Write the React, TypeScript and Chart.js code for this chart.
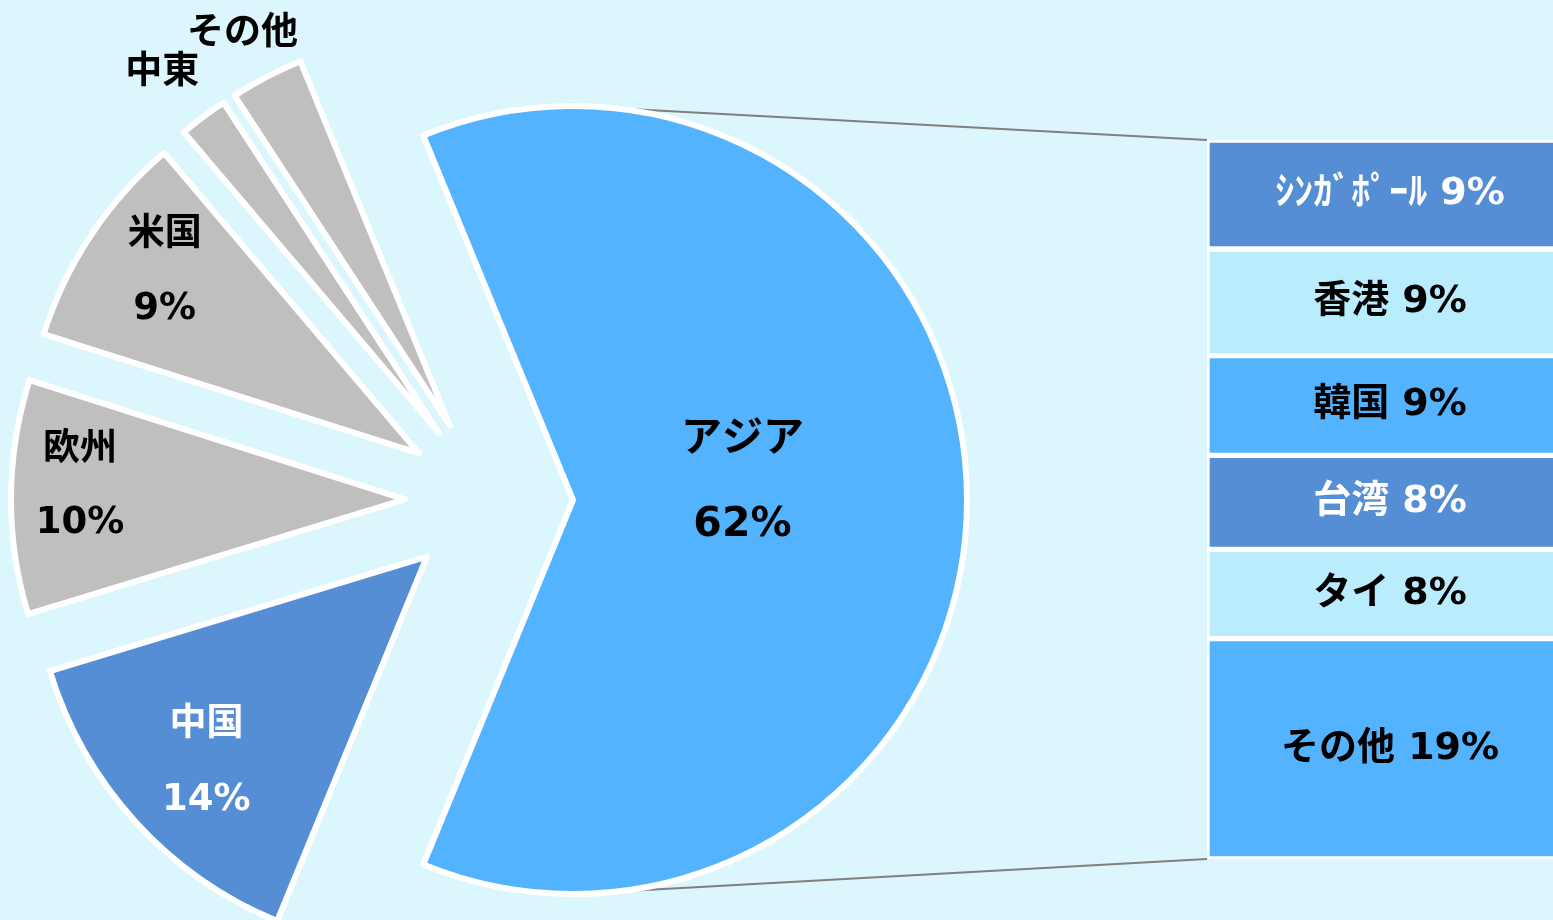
import { useEffect, useRef } from 'react';
import { Chart, registerables } from 'chart.js';

Chart.register(...registerables);

// ---- data ----
const regionNames = ['アジア', '中国', '欧州', '米国', '中東', 'その他'];
const regionShares = [62.4, 14.1, 9.6, 8.9, 2.0, 3.0];
const asiaNames = ['ｼﾝｶﾞﾎﾟｰﾙ', '香港', '韓国', '台湾', 'タイ', 'その他'];
const asiaShares = [9.4, 9.2, 8.6, 8.1, 7.7, 19.0];

// ---- style ----
const W = 1553;
const H = 920;
const BG = '#dcf6fe';
const FONT = (size: number) => `bold ${size}px "DejaVu Sans", "Noto Sans CJK JP", sans-serif`;
const regionColors = ['#53b3ff', '#558ed5', '#bfbfbf', '#bfbfbf', '#bfbfbf', '#bfbfbf'];
const regionTextColors = ['#000', '#fff', '#000', '#000', '#000', '#000'];
const asiaColors = ['#558ed5', '#b9ecfd', '#53b3ff', '#558ed5', '#b9ecfd', '#53b3ff'];
const asiaTextColors = ['#fff', '#000', '#000', '#fff', '#000', '#000'];
const regionLabelStyle = [
  { r: 0.43, dx: 0, dy: -17, size: 41, gap: 85, showValue: true },
  { r: 0.76, dx: 1, dy: 5, size: 37, gap: 75, showValue: true },
  { r: 0.825, dx: 0, dy: -11, size: 37, gap: 73, showValue: true },
  { r: 0.8, dx: 8, dy: -6, size: 37, gap: 74, showValue: true },
  { r: 1.153, dx: -5, dy: 5, size: 37, gap: 0, showValue: false },
  { r: 1.127, dx: -1, dy: 2, size: 37, gap: 0, showValue: false },
];
const PIE_CX = 489;
const PIE_CY = 500;
const PIE_R = 394;
const EXPLODE = 84;
const BAR_LEFT = 1207;
const BAR_W = 372;
const BAR_TOP = 140;
const BAR_BOTTOM = 859;

export default function App() {
  const pieRef = useRef<HTMLCanvasElement | null>(null);
  const barRef = useRef<HTMLCanvasElement | null>(null);

  useEffect(() => {
    if (!pieRef.current || !barRef.current) return;
    const asiaTotal = asiaShares.reduce((a, b) => a + b, 0);
    const regionTotal = regionShares.reduce((a, b) => a + b, 0);

    const barLabels = {
      id: 'barLabels',
      afterDatasetsDraw(chart: any) {
        const ctx = chart.ctx;
        ctx.save();
        ctx.font = FONT(38);
        ctx.textAlign = 'center';
        ctx.textBaseline = 'middle';
        chart.data.datasets.forEach((ds: any, i: number) => {
          const el = chart.getDatasetMeta(i).data[0];
          if (!el) return;
          ctx.fillStyle = asiaTextColors[i];
          ctx.fillText(`${asiaNames[i]} ${Math.round(ds.data[0])}%`, el.x - 3, (el.y + el.base) / 2);
        });
        ctx.restore();
      },
    };

    const barChart = new Chart(barRef.current, {
      type: 'bar',
      data: {
        labels: ['アジア'],
        datasets: asiaNames.map((n, i) => ({
          label: n,
          data: [asiaShares[i]],
          backgroundColor: asiaColors[i],
          borderColor: '#ffffff',
          borderWidth: 3,
          borderSkipped: false,
          barPercentage: 1,
          categoryPercentage: 1,
        })),
      },
      options: {
        responsive: false,
        animation: false,
        layout: { padding: { top: BAR_TOP, bottom: H - BAR_BOTTOM, left: 0, right: 0 } },
        scales: {
          x: { display: false, stacked: true },
          y: { display: false, stacked: true, reverse: true, min: 0, max: asiaTotal },
        },
        plugins: { legend: { display: false }, tooltip: { enabled: false } },
      },
      plugins: [barLabels],
    } as any);

    const explode = {
      id: 'explode',
      afterDatasetUpdate(_chart: any, args: any) {
        args.meta.data.forEach((arc: any) => {
          const mid = (arc.startAngle + arc.endAngle) / 2;
          arc.x += Math.cos(mid) * EXPLODE;
          arc.y += Math.sin(mid) * EXPLODE;
        });
      },
    };

    const connectors = {
      id: 'connectors',
      beforeDatasetsDraw(chart: any) {
        const asia = chart.getDatasetMeta(0).data[0];
        const el = barChart.getDatasetMeta(0).data[0] as any;
        if (!asia || !el) return;
        const ys = barChart.scales.y;
        const left = BAR_LEFT + el.x - el.width / 2;
        const top = ys.getPixelForValue(0);
        const bottom = ys.getPixelForValue(asiaTotal);
        const ctx = chart.ctx;
        ctx.save();
        ctx.strokeStyle = '#7f7f7f';
        ctx.lineWidth = 2;
        ctx.beginPath();
        ctx.moveTo(asia.x, asia.y - asia.outerRadius);
        ctx.lineTo(left, top);
        ctx.moveTo(asia.x, asia.y + asia.outerRadius);
        ctx.lineTo(left, bottom);
        ctx.stroke();
        ctx.restore();
      },
    };

    const pieLabels = {
      id: 'pieLabels',
      afterDatasetsDraw(chart: any) {
        const ctx = chart.ctx;
        const meta = chart.getDatasetMeta(0);
        ctx.save();
        ctx.textAlign = 'center';
        ctx.textBaseline = 'middle';
        meta.data.forEach((arc: any, i: number) => {
          const st = regionLabelStyle[i];
          const mid = (arc.startAngle + arc.endAngle) / 2;
          const rr = arc.outerRadius * st.r;
          const x = arc.x + Math.cos(mid) * rr + st.dx;
          const y = arc.y + Math.sin(mid) * rr + st.dy;
          ctx.font = FONT(st.size);
          ctx.fillStyle = regionTextColors[i];
          if (st.showValue) {
            ctx.fillText(regionNames[i], x, y - st.gap / 2);
            ctx.fillText(`${Math.round(regionShares[i])}%`, x, y + st.gap / 2);
          } else {
            ctx.fillText(regionNames[i], x, y);
          }
        });
        ctx.restore();
      },
    };

    const asiaSweep = (regionShares[0] / regionTotal) * 360;
    const pieChart = new Chart(pieRef.current, {
      type: 'pie',
      data: {
        labels: regionNames,
        datasets: [
          {
            data: regionShares,
            backgroundColor: regionColors,
            borderColor: '#ffffff',
            borderWidth: 6,
            borderJoinStyle: 'round',
            radius: PIE_R,
          },
        ],
      },
      options: {
        responsive: false,
        animation: false,
        rotation: 90 - asiaSweep / 2,
        layout: { padding: { left: 0, right: W - 2 * PIE_CX, top: 2 * PIE_CY - H, bottom: 0 } },
        plugins: { legend: { display: false }, tooltip: { enabled: false } },
      },
      plugins: [explode, connectors, pieLabels],
    } as any);

    return () => {
      pieChart.destroy();
      barChart.destroy();
    };
  }, []);

  return (
    <div style={{ position: 'fixed', left: 0, top: 0, width: W, height: H, overflow: 'hidden', background: BG }}>
      <canvas ref={pieRef} width={W} height={H} style={{ position: 'absolute', left: 0, top: 0, width: W, height: H }} />
      <canvas ref={barRef} width={BAR_W} height={H} style={{ position: 'absolute', left: BAR_LEFT, top: 0, width: BAR_W, height: H }} />
    </div>
  );
}
